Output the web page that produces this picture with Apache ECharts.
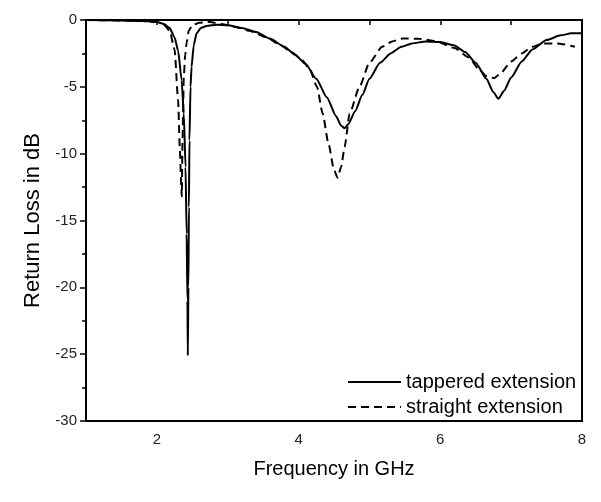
<!DOCTYPE html>
<html>
<head>
<meta charset="utf-8">
<script src="https://cdn.jsdelivr.net/npm/echarts@6/dist/echarts.min.js"></script>
<style>html,body{margin:0;padding:0;background:#fff}#c{width:601px;height:502px}</style>
</head>
<body>
<div id="c"></div>
<script>
var xTitle = 'Frequency in GHz';
var yTitle = 'Return Loss in dB';
var seriesNames = ['tappered extension', 'straight extension'];

var tapperedFreq = [1.0,1.5,1.8,2.0,2.1,2.18,2.25,2.3,2.35,2.38,2.405,2.42,2.432,2.437,2.445,2.452,2.46,2.475,2.49,2.52,2.56,2.62,2.7,2.85,3.0,3.2,3.4,3.6,3.8,3.95,4.1,4.25,4.4,4.53,4.6,4.65,4.7,4.8,4.9,5.0,5.15,5.3,5.45,5.6,5.8,6.0,6.2,6.35,6.5,6.65,6.75,6.82,6.9,7.0,7.15,7.3,7.5,7.7,7.85,8.0];
var tapperedRL   = [0,-0.03,-0.08,-0.15,-0.3,-0.6,-1.3,-2.3,-4.5,-7,-11,-16,-21,-25.1,-20,-14,-9,-5,-3.5,-1.9,-1.0,-0.6,-0.45,-0.35,-0.4,-0.6,-0.9,-1.4,-2.0,-2.6,-3.3,-4.4,-5.8,-7.2,-7.9,-8.1,-7.8,-6.8,-5.6,-4.4,-3.2,-2.5,-2.0,-1.75,-1.6,-1.65,-1.9,-2.4,-3.2,-4.4,-5.4,-5.9,-5.3,-4.3,-3.1,-2.2,-1.5,-1.15,-1.0,-1.0];

var straightFreq = [1.0,1.5,1.8,2.0,2.1,2.18,2.25,2.3,2.325,2.345,2.352,2.362,2.38,2.4,2.42,2.45,2.5,2.6,2.75,2.9,3.1,3.3,3.55,3.75,3.9,4.05,4.16,4.26,4.34,4.42,4.5,4.55,4.6,4.65,4.72,4.86,5.0,5.18,5.32,5.47,5.7,5.95,6.2,6.4,6.55,6.65,6.76,6.85,7.0,7.15,7.3,7.45,7.65,7.9];
var straightRL   = [0,-0.03,-0.08,-0.15,-0.35,-0.8,-2.2,-6,-9.7,-12.5,-13.2,-9,-4.3,-2.6,-1.7,-0.8,-0.4,-0.2,-0.15,-0.3,-0.5,-0.8,-1.3,-1.9,-2.4,-3.0,-3.7,-5.0,-7.0,-9.2,-11.2,-11.8,-11.0,-9.5,-7.0,-5.0,-3.2,-2.0,-1.6,-1.38,-1.4,-1.6,-2.1,-2.8,-3.7,-4.2,-4.35,-4.0,-3.1,-2.5,-2.0,-1.75,-1.75,-2.0];

function zip(a, b) { return a.map(function (v, i) { return [v, b[i]]; }); }

var chart = echarts.init(document.getElementById('c'), null, { renderer: 'canvas' });
var font = '"Liberation Sans", Arial, sans-serif';
chart.setOption({
  animation: false,
  backgroundColor: '#fff',
  grid: { left: 86, right: 19, top: 20, bottom: 81, show: true, borderColor: '#000', borderWidth: 2, backgroundColor: 'transparent' },
  legend: {
    orient: 'vertical', left: 347, top: 371, padding: 0,
    itemWidth: 53, itemHeight: 14, itemGap: 3,
    itemStyle: { opacity: 0, color: 'rgba(0,0,0,0)', borderWidth: 0 },
    textStyle: { fontFamily: font, fontSize: 20, color: '#000', lineHeight: 22 },
    data: seriesNames
  },
  xAxis: {
    type: 'value', min: 1, max: 8, interval: 1,
    name: xTitle, nameLocation: 'middle', nameGap: 38,
    nameTextStyle: { fontFamily: font, fontSize: 20, color: '#000' },
    axisLine: { show: true, lineStyle: { color: '#000', width: 2 } },
    axisTick: { show: true, inside: false, length: 5, lineStyle: { color: '#000', width: 1.5 } },
    axisLabel: { margin: 11, fontFamily: font, fontSize: 15, color: '#222',
      formatter: function (v) { return (v % 2 === 0) ? String(v) : ''; } },
    splitLine: { show: false }
  },
  yAxis: {
    type: 'value', min: -30, max: 0, interval: 5,
    name: yTitle, nameLocation: 'middle', nameGap: 42,
    nameTextStyle: { fontFamily: font, fontSize: 22, color: '#000' },
    axisLine: { show: true, lineStyle: { color: '#000', width: 2 } },
    axisTick: { show: true, inside: false, length: 6, lineStyle: { color: '#000', width: 1.5 } },
    minorTick: { show: true, splitNumber: 2, length: 4, lineStyle: { color: '#000', width: 1.5 } },
    axisLabel: { margin: 9, fontFamily: font, fontSize: 15, color: '#222' },
    splitLine: { show: false }
  },
  series: [
    { name: seriesNames[0], type: 'line', data: zip(tapperedFreq, tapperedRL), symbol: 'none', smooth: 0.2, smoothMonotone: 'x',
      lineStyle: { color: '#000', width: 2, type: 'solid' }, itemStyle: { color: '#000' } },
    { name: seriesNames[1], type: 'line', data: zip(straightFreq, straightRL), symbol: 'none', smooth: 0.2, smoothMonotone: 'x',
      lineStyle: { color: '#000', width: 2, type: [8, 5] }, itemStyle: { color: '#000' } }
  ]
});
</script>
</body>
</html>
